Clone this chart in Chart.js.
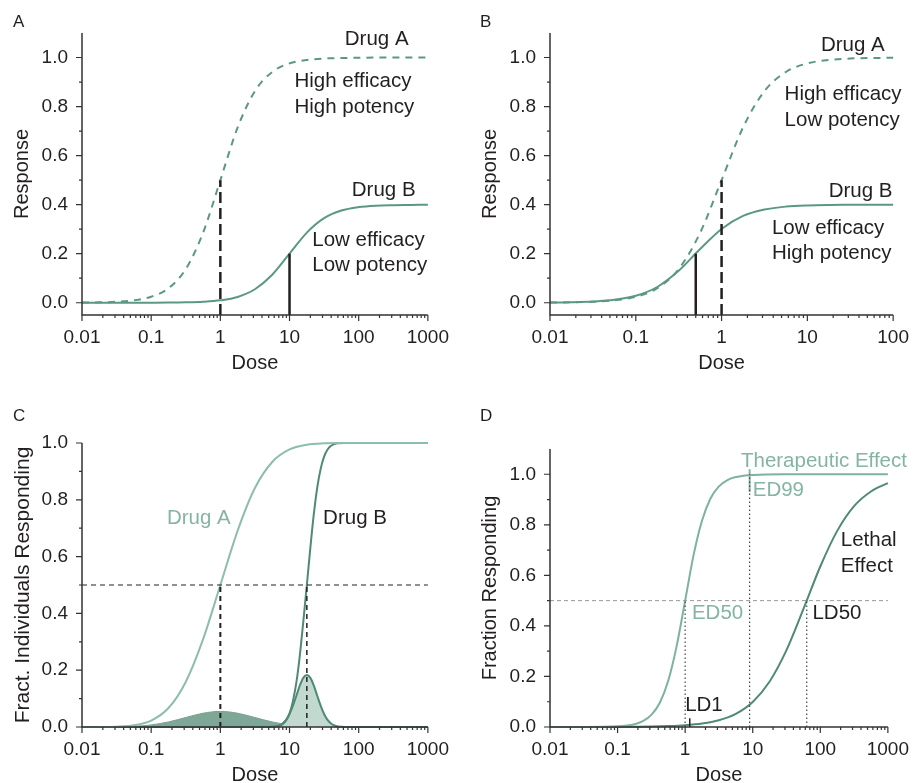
<!DOCTYPE html>
<html lang="en">
<head>
<meta charset="UTF-8">
<title>Dose-response curves</title>
<script src="https://cdn.jsdelivr.net/npm/chart.js"></script>
<style>
  body { margin: 0; background: #fff; overflow: hidden; }
  #wrap { position: relative; width: 920px; height: 783px; }
  canvas { position: absolute; }
</style>
</head>
<body>
<div id="wrap">
  <canvas id="chartA" width="460" height="390" style="left:0;top:0"></canvas>
  <canvas id="chartB" width="460" height="390" style="left:460px;top:0"></canvas>
  <canvas id="chartC" width="460" height="400" style="left:0;top:390px"></canvas>
  <canvas id="chartD" width="460" height="400" style="left:460px;top:390px"></canvas>
</div>

<script>
    // doses, quarter decades from 0.01 to 1000
    const doses = [0.01, 0.0178, 0.0316, 0.0562, 0.1, 0.178, 0.316, 0.562, 1, 1.78, 3.16, 5.62, 10, 17.8, 31.6, 56.2, 100, 178, 316, 562, 1000];
    const xTicks = [0.01, 0.1, 1, 10, 100, 1000];
    const yTicks = [0, 0.2, 0.4, 0.6, 0.8, 1.0];
    const yMinor = [0.1, 0.3, 0.5, 0.7, 0.9];

    // A: efficacy vs potency
    const aDrugA = [0.0006, 0.0016, 0.004, 0.0099, 0.0245, 0.059, 0.137, 0.285, 0.5, 0.715, 0.863, 0.941, 0.976, 0.990, 0.996, 0.998, 0.999, 1.0, 1.0, 1.0, 1.0];
    const aDrugB = [0, 0, 0, 0.0001, 0.0003, 0.0006, 0.0016, 0.004, 0.0098, 0.0236, 0.055, 0.114, 0.2, 0.286, 0.345, 0.376, 0.390, 0.396, 0.398, 0.399, 0.4];
    const aMarkDoses = [1, 10];
    const aMarkTops = [0.5, 0.2];

    // B: dose axis stops at 100
    const bDoses = [0.01, 0.0178, 0.0316, 0.0562, 0.1, 0.178, 0.316, 0.562, 1, 1.78, 3.16, 5.62, 10, 17.8, 31.6, 56.2, 100];
    const bDrugA = [0.0006, 0.0016, 0.004, 0.0099, 0.0245, 0.059, 0.137, 0.285, 0.5, 0.715, 0.863, 0.941, 0.976, 0.990, 0.996, 0.998, 0.999];
    const bDrugB = [0.0008, 0.0019, 0.0048, 0.0118, 0.0284, 0.0642, 0.130, 0.219, 0.301, 0.354, 0.380, 0.392, 0.397, 0.399, 0.3995, 0.4, 0.4];
    const bMarkDoses = [0.5, 1];
    const bMarkTops = [0.2, 0.5];

    // C: quantal dose-response
    const cDrugA = [0, 0.0002, 0.0013, 0.0062, 0.0228, 0.0668, 0.1587, 0.3085, 0.5, 0.6915, 0.8413, 0.9332, 0.9772, 0.9938, 0.9987, 0.9998, 1, 1, 1, 1, 1];
    const cDistA = [0, 0.0001, 0.0006, 0.0024, 0.0074, 0.0179, 0.0334, 0.0485, 0.055, 0.0485, 0.0334, 0.0179, 0.0074, 0.0024, 0.0006, 0.0001, 0, 0, 0, 0, 0];
    const cDosesB = [0.01, 1, 3.16, 5.01, 5.62, 6.31, 7.08, 7.94, 8.91, 10, 11.2, 12.6, 14.1, 15.8, 17.8, 20.0, 22.4, 25.1, 28.2, 31.6, 35.5, 39.8, 44.7, 50.1, 63.1, 100, 1000];
    const cDrugB = [0, 0, 0, 0.0001, 0.0004, 0.0013, 0.0038, 0.0098, 0.0228, 0.0478, 0.0912, 0.1587, 0.2525, 0.3694, 0.5, 0.6306, 0.7475, 0.8413, 0.9088, 0.9522, 0.9772, 0.9902, 0.9962, 0.9987, 0.9999, 1, 1];
    const cDistB = [0, 0, 0, 0.0002, 0.0007, 0.002, 0.0052, 0.012, 0.0248, 0.0456, 0.0752, 0.111, 0.1465, 0.1731, 0.183, 0.1731, 0.1465, 0.111, 0.0752, 0.0456, 0.0248, 0.012, 0.0052, 0.002, 0.0002, 0, 0];
    const cMedians = [1, 17.8];

    // D: therapeutic vs lethal
    const dDosesTher = [0.01, 0.0316, 0.1, 0.178, 0.237, 0.316, 0.422, 0.562, 0.75, 1, 1.33, 1.78, 2.37, 3.16, 4.22, 5.62, 10, 31.6, 100, 1000];
    const dTher = [0, 0.0001, 0.0025, 0.011, 0.023, 0.048, 0.096, 0.183, 0.321, 0.5, 0.679, 0.817, 0.904, 0.952, 0.977, 0.989, 0.9975, 0.9999, 1, 1];
    const dLethal = [0, 0.00005, 0.0001, 0.0002, 0.0004, 0.0009, 0.0017, 0.0035, 0.0069, 0.0136, 0.0268, 0.052, 0.099, 0.180, 0.304, 0.466, 0.635, 0.776, 0.874, 0.932, 0.965];
    const dMarkDoses = [1, 9, 63];   // ED50, ED99, LD50
    const dMarkTops = [0.5, 1.0, 0.5];
    const dLD1 = 1.17;

    const INK = '#231f20';
    const FONT = "'Liberation Sans', Arial, Helvetica, sans-serif";
    const TEAL = '#5b9884';
    const LIGHT = '#8dbdab';
    const DARK = '#4f8a76';
    const TEXT_LIGHT = '#84b5a2';

    function pts(xs, ys) {
        return xs.map((x, i) => ({ x: x, y: ys[i] }));
    }
    function curve(xs, ys, color, extra) {
        return Object.assign({
            data: pts(xs, ys), borderColor: color, borderWidth: 2, pointRadius: 0,
            cubicInterpolationMode: 'monotone', fill: false, clip: false
        }, extra || {});
    }
    function seg(x0, y0, x1, y1, color, width, dash) {
        return {
            data: [{ x: x0, y: y0 }, { x: x1, y: y1 }], borderColor: color, borderWidth: width,
            borderDash: dash || [], pointRadius: 0, fill: false, clip: false, tension: 0
        };
    }

    // axis lines, tick marks, text notes and panel letter
    const decor = {
        id: 'decor',
        afterDatasetsDraw(chart, args, opts) {
            const ctx = chart.ctx, a = chart.chartArea;
            const xs = chart.scales.x, ys = chart.scales.y;
            ctx.save();
            ctx.strokeStyle = '#333';
            ctx.lineWidth = 1.5;
            ctx.beginPath();
            ctx.moveTo(a.left, a.top);
            ctx.lineTo(a.left, a.bottom);
            ctx.lineTo(a.right, a.bottom);
            ctx.stroke();

            ctx.lineWidth = 1.2;
            ctx.beginPath();
            xs.ticks.forEach(t => {
                const px = xs.getPixelForValue(t.value);
                ctx.moveTo(px, a.bottom); ctx.lineTo(px, a.bottom + 6);
                for (let k = 2; k < 10; k++) {
                    const v = t.value * k;
                    if (v > xs.max * 1.0001) break;
                    const mx = xs.getPixelForValue(v);
                    ctx.moveTo(mx, a.bottom); ctx.lineTo(mx, a.bottom + 3);
                }
            });
            ys.ticks.forEach(t => {
                const py = ys.getPixelForValue(t.value);
                ctx.moveTo(a.left, py); ctx.lineTo(a.left - 6, py);
            });
            yMinor.forEach(v => {
                const py = ys.getPixelForValue(v);
                ctx.moveTo(a.left, py); ctx.lineTo(a.left - 3, py);
            });
            ctx.stroke();

            ctx.textBaseline = 'middle';
            ctx.textAlign = 'left';
            ctx.font = '20.5px ' + FONT;
            opts.notes.forEach(n => {
                ctx.fillStyle = n.color || INK;
                ctx.fillText(n.text, xs.getPixelForValue(n.x), ys.getPixelForValue(n.y));
            });
            ctx.font = '17px ' + FONT;
            ctx.fillStyle = INK;
            ctx.fillText(opts.letter, opts.letterX, opts.letterY);
            ctx.restore();
        }
    };
    Chart.register(decor);

    function panel(id, cfg) {
        return new Chart(document.getElementById(id), {
            type: 'line',
            data: { datasets: cfg.datasets },
            options: {
                responsive: false,
                animation: false,
                devicePixelRatio: 1,
                layout: { padding: cfg.padding },
                plugins: {
                    legend: { display: false },
                    tooltip: { enabled: false },
                    decor: cfg.decor
                },
                scales: {
                    x: {
                        type: 'logarithmic', min: 0.01, max: cfg.xMax,
                        afterBuildTicks: s => { s.ticks = xTicks.filter(v => v <= cfg.xMax).map(v => ({ value: v })); },
                        afterFit: s => { s.height = cfg.xHeight; },
                        grid: { display: false, drawTicks: false },
                        border: { display: false },
                        ticks: {
                            autoSkip: false, maxRotation: 0, padding: 11, color: INK,
                            font: { family: FONT, size: 19 },
                            callback: v => String(v)
                        },
                        title: {
                            display: true, text: 'Dose', color: INK,
                            font: { family: FONT, size: 20 },
                            padding: { top: 0, bottom: cfg.xTitlePad }
                        }
                    },
                    y: {
                        min: cfg.yMin, max: cfg.yMax,
                        afterBuildTicks: s => { s.ticks = yTicks.map(v => ({ value: v })); },
                        afterFit: s => { s.width = cfg.yWidth; },
                        grid: { display: false, drawTicks: false },
                        border: { display: false },
                        ticks: {
                            padding: 14, color: INK,
                            font: { family: FONT, size: 19 },
                            callback: v => v.toFixed(1)
                        },
                        title: {
                            display: true, text: cfg.yTitle, color: INK,
                            font: { family: FONT, size: cfg.yTitleSize || 20 },
                            padding: { top: cfg.yTitlePad, bottom: 0 }
                        }
                    }
                }
            }
        });
    }

    // Panel A
    panel('chartA', {
        padding: { left: 0, top: 33, right: 28, bottom: 0 },
        xMax: 1000, xHeight: 75, xTitlePad: 15,
        yMin: -0.05, yMax: 1.1, yWidth: 82, yTitle: 'Response', yTitlePad: 10.5,
        datasets: [
            seg(aMarkDoses[0], -0.05, aMarkDoses[0], aMarkTops[0], INK, 2.5, [11, 5]),
            seg(aMarkDoses[1], -0.05, aMarkDoses[1], aMarkTops[1], INK, 2.5),
            curve(doses, aDrugA, TEAL, { borderDash: [7, 6] }),
            curve(doses, aDrugB, TEAL)
        ],
        decor: {
            letter: 'A', letterX: 13, letterY: 22.5,
            notes: [
                { text: 'Drug A', x: 63, y: 1.073 },
                { text: 'High efficacy', x: 11.8, y: 0.904 },
                { text: 'High potency', x: 11.8, y: 0.798 },
                { text: 'Drug B', x: 79.4, y: 0.46 },
                { text: 'Low efficacy', x: 21.3, y: 0.256 },
                { text: 'Low potency', x: 21.3, y: 0.152 }
            ]
        }
    });

    // Panel B
    panel('chartB', {
        padding: { left: 0, top: 33, right: 19, bottom: 0 },
        xMax: 100, xHeight: 75, xTitlePad: 15,
        yMin: -0.05, yMax: 1.1, yWidth: 90, yTitle: 'Response', yTitlePad: 18,
        datasets: [
            seg(bMarkDoses[0], -0.05, bMarkDoses[0], bMarkTops[0], INK, 2.5),
            seg(bMarkDoses[1], -0.05, bMarkDoses[1], bMarkTops[1], INK, 2.5, [11, 5]),
            curve(bDoses, bDrugA, TEAL, { borderDash: [7, 6] }),
            curve(bDoses, bDrugB, TEAL)
        ],
        decor: {
            letter: 'B', letterX: 20, letterY: 22.5,
            notes: [
                { text: 'Drug A', x: 14.4, y: 1.051 },
                { text: 'High efficacy', x: 5.43, y: 0.851 },
                { text: 'Low potency', x: 5.43, y: 0.745 },
                { text: 'Drug B', x: 17.7, y: 0.456 },
                { text: 'Low efficacy', x: 3.86, y: 0.305 },
                { text: 'High potency', x: 3.86, y: 0.203 }
            ]
        }
    });

    // Panel C
    panel('chartC', {
        padding: { left: 0, top: 53, right: 28, bottom: 0 },
        xMax: 1000, xHeight: 63, xTitlePad: 3,
        yMin: 0, yMax: 1.0, yWidth: 82, yTitle: 'Fract. Individuals Responding', yTitlePad: 10.5, yTitleSize: 21,
        datasets: [
            seg(0.01, 0.5, 1000, 0.5, INK, 1, [5, 4]),
            seg(cMedians[0], 0, cMedians[0], 0.5, INK, 2, [5, 4]),
            seg(cMedians[1], 0, cMedians[1], 0.5, INK, 1.5, [5, 4]),
            curve(doses, cDrugA, LIGHT),
            curve(cDosesB, cDrugB, DARK),
            curve(cDosesB, cDistB, DARK, { fill: 'origin', backgroundColor: '#c2d9cf' }),
            curve(doses, cDistA, '#76a08f', { borderWidth: 1, fill: 'origin', backgroundColor: '#7ea797' })
        ],
        decor: {
            letter: 'C', letterX: 13, letterY: 26,
            notes: [
                { text: 'Drug A', x: 0.169, y: 0.734, color: TEXT_LIGHT },
                { text: 'Drug B', x: 30.6, y: 0.734 }
            ]
        }
    });

    // Panel D
    panel('chartD', {
        padding: { left: 0, top: 59, right: 25, bottom: 0 },
        xMax: 1000, xHeight: 63, xTitlePad: 3,
        yMin: 0, yMax: 1.1, yWidth: 90, yTitle: 'Fraction Responding', yTitlePad: 18,
        datasets: [
            seg(0.01, 0.5, 1000, 0.5, '#999', 1, [4, 3]),
            seg(dMarkDoses[0], 0, dMarkDoses[0], dMarkTops[0], '#444', 1.2, [1.5, 2.5]),
            seg(dMarkDoses[1], 0, dMarkDoses[1], dMarkTops[1], '#444', 1.2, [1.5, 2.5]),
            seg(dMarkDoses[2], 0, dMarkDoses[2], dMarkTops[2], '#444', 1.2, [1.5, 2.5]),
            seg(dMarkDoses[1], 0.93, dMarkDoses[1], 1.02, TEXT_LIGHT, 2),
            seg(dLD1, 0, dLD1, 0.035, INK, 1.5),
            curve(dDosesTher, dTher, '#7db29e'),
            curve(doses, dLethal, DARK)
        ],
        decor: {
            letter: 'D', letterX: 20, letterY: 26,
            notes: [
                { text: 'Therapeutic Effect', x: 6.7, y: 1.053, color: TEXT_LIGHT },
                { text: 'ED99', x: 10, y: 0.937, color: TEXT_LIGHT },
                { text: 'Lethal', x: 201, y: 0.737 },
                { text: 'Effect', x: 201, y: 0.636 },
                { text: 'ED50', x: 1.26, y: 0.45, color: TEXT_LIGHT },
                { text: 'LD50', x: 76.6, y: 0.45 },
                { text: 'LD1', x: 1.0, y: 0.085 }
            ]
        }
    });
</script>
</body>
</html>
